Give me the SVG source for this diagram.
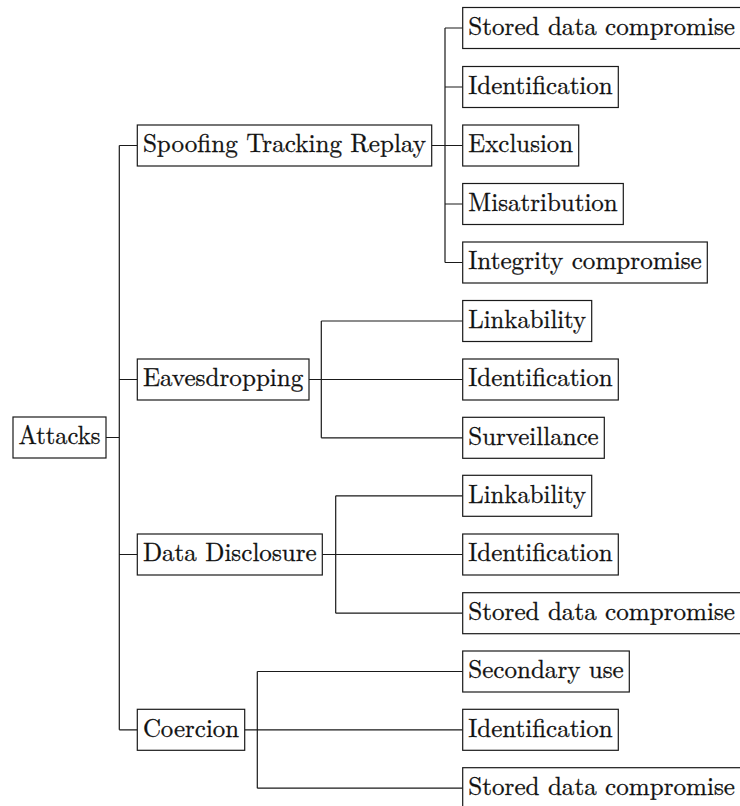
<svg xmlns="http://www.w3.org/2000/svg" width="740" height="806" viewBox="0 0 740 806">
  <style>
    .box { fill: #ffffff; stroke: #1a1a1a; stroke-width: 1.2; }
    .wire { fill: none; stroke: #1a1a1a; stroke-width: 1.2; }
  </style>
  <rect width="740" height="806" fill="#ffffff"/>

  <!-- connectors -->
  <g id="connectors">
    <!-- root to first level -->
    <path class="wire" d="M106,437.5 H119.3 M119.3,145.5 V729.8 M119.3,145.5 H137.3 M119.3,379.5 H137.3 M119.3,554.5 H137.3 M119.3,729.8 H137.3"/>
    <!-- Spoofing Tracking Replay -->
    <path class="wire" d="M431.7,145.5 H445 M445,28 V262.5 M445,28 H462.7 M445,87 H462.7 M445,145.5 H462.7 M445,204 H462.7 M445,262.5 H462.7"/>
    <!-- Eavesdropping -->
    <path class="wire" d="M309,379.5 H321.3 M321.3,321 V437.8 M321.3,321 H462.7 M321.3,379.5 H462.7 M321.3,437.8 H462.7"/>
    <!-- Data Disclosure -->
    <path class="wire" d="M322.3,554.5 H335.7 M335.7,495.8 V613.2 M335.7,495.8 H462.7 M335.7,554.5 H462.7 M335.7,613.2 H462.7"/>
    <!-- Coercion -->
    <path class="wire" d="M244.7,729.8 H257.3 M257.3,671.5 V788.2 M257.3,671.5 H462.7 M257.3,729.8 H462.7 M257.3,788.2 H462.7"/>
  </g>

  <g font-family="Latin Modern Roman, Liberation Serif, serif" font-size="26" fill="#111111" stroke="#111111" stroke-width="0.3">
  <!-- root -->
  <g id="attacks">
    <rect class="box" x="13" y="417" width="93" height="41"/>
    <text x="18.6" y="444.3" textLength="81.8" lengthAdjust="spacingAndGlyphs">Attacks</text>
  </g>

  <!-- first level -->
  <g id="spoofing">
    <rect class="box" x="137.3" y="125" width="294.4" height="41"/>
    <text x="142.9" y="152.3" textLength="283.2" lengthAdjust="spacingAndGlyphs">Spoofing Tracking Replay</text>
  </g>
  <g id="eavesdropping">
    <rect class="box" x="137.3" y="359" width="171.7" height="41"/>
    <text x="142.9" y="386.3" textLength="160.5" lengthAdjust="spacingAndGlyphs">Eavesdropping</text>
  </g>
  <g id="data-disclosure">
    <rect class="box" x="137.3" y="534" width="185" height="41"/>
    <text x="142.9" y="561.3" textLength="173.8" lengthAdjust="spacingAndGlyphs">Data Disclosure</text>
  </g>
  <g id="coercion">
    <rect class="box" x="137.3" y="709.3" width="107.4" height="41"/>
    <text x="142.9" y="736.6" textLength="96.2" lengthAdjust="spacingAndGlyphs">Coercion</text>
  </g>

  <!-- leaves: Spoofing Tracking Replay -->
  <g id="str-stored">
    <rect class="box" x="462.7" y="7.5" width="279" height="41"/>
    <text x="468.3" y="34.8" textLength="266.7" lengthAdjust="spacingAndGlyphs">Stored data compromise</text>
  </g>
  <g id="str-identification">
    <rect class="box" x="462.7" y="66.5" width="155.6" height="41"/>
    <text x="468.3" y="93.8" textLength="144.4" lengthAdjust="spacingAndGlyphs">Identification</text>
  </g>
  <g id="str-exclusion">
    <rect class="box" x="462.7" y="125" width="116" height="41"/>
    <text x="468.3" y="152.3" textLength="104.8" lengthAdjust="spacingAndGlyphs">Exclusion</text>
  </g>
  <g id="str-misatribution">
    <rect class="box" x="462.7" y="183.5" width="160.6" height="41"/>
    <text x="468.3" y="210.8" textLength="149.4" lengthAdjust="spacingAndGlyphs">Misatribution</text>
  </g>
  <g id="str-integrity">
    <rect class="box" x="462.7" y="242" width="244.6" height="41"/>
    <text x="468.3" y="269.3" textLength="233.4" lengthAdjust="spacingAndGlyphs">Integrity compromise</text>
  </g>

  <!-- leaves: Eavesdropping -->
  <g id="eav-linkability">
    <rect class="box" x="462.7" y="300.5" width="129" height="41"/>
    <text x="468.3" y="327.8" textLength="117.8" lengthAdjust="spacingAndGlyphs">Linkability</text>
  </g>
  <g id="eav-identification">
    <rect class="box" x="462.7" y="359" width="155.6" height="41"/>
    <text x="468.3" y="386.3" textLength="144.4" lengthAdjust="spacingAndGlyphs">Identification</text>
  </g>
  <g id="eav-surveillance">
    <rect class="box" x="462.7" y="417.3" width="141.6" height="41"/>
    <text x="468.3" y="444.6" textLength="130.4" lengthAdjust="spacingAndGlyphs">Surveillance</text>
  </g>

  <!-- leaves: Data Disclosure -->
  <g id="dd-linkability">
    <rect class="box" x="462.7" y="475.3" width="129" height="41"/>
    <text x="468.3" y="502.6" textLength="117.8" lengthAdjust="spacingAndGlyphs">Linkability</text>
  </g>
  <g id="dd-identification">
    <rect class="box" x="462.7" y="534" width="155.6" height="41"/>
    <text x="468.3" y="561.3" textLength="144.4" lengthAdjust="spacingAndGlyphs">Identification</text>
  </g>
  <g id="dd-stored">
    <rect class="box" x="462.7" y="592.7" width="279" height="41"/>
    <text x="468.3" y="620" textLength="266.7" lengthAdjust="spacingAndGlyphs">Stored data compromise</text>
  </g>

  <!-- leaves: Coercion -->
  <g id="co-secondary">
    <rect class="box" x="462.7" y="651" width="166.6" height="41"/>
    <text x="468.3" y="678.3" textLength="155.4" lengthAdjust="spacingAndGlyphs">Secondary use</text>
  </g>
  <g id="co-identification">
    <rect class="box" x="462.7" y="709.3" width="155.6" height="41"/>
    <text x="468.3" y="736.6" textLength="144.4" lengthAdjust="spacingAndGlyphs">Identification</text>
  </g>
  <g id="co-stored">
    <rect class="box" x="462.7" y="767.7" width="279" height="41"/>
    <text x="468.3" y="795" textLength="266.7" lengthAdjust="spacingAndGlyphs">Stored data compromise</text>
  </g>
  </g>
</svg>
